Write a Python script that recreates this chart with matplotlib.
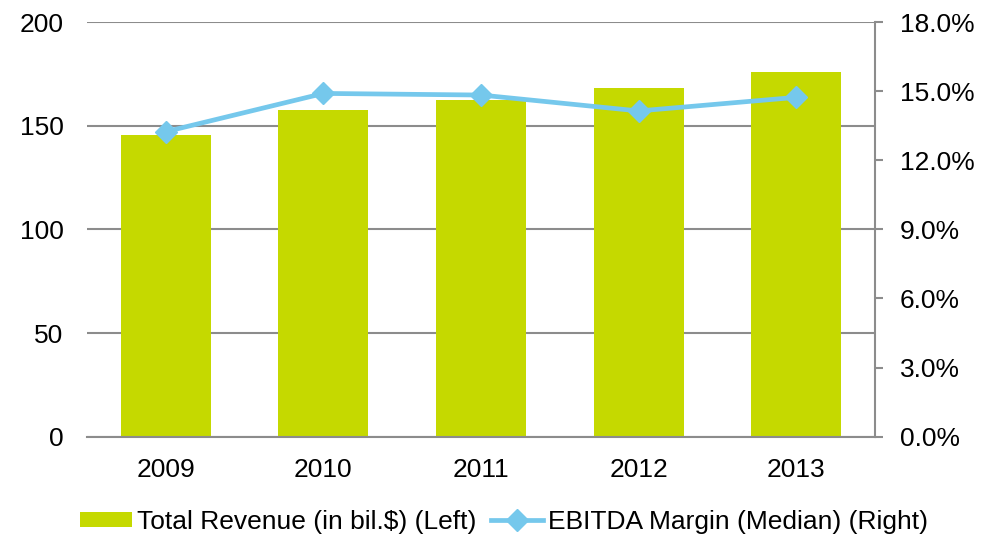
import numpy as np
import matplotlib.pyplot as plt
from matplotlib.ticker import FuncFormatter

plt.rcParams['font.family'] = ['Liberation Sans', 'DejaVu Sans']

years = ['2009', '2010', '2011', '2012', '2013']
revenue = [145.4, 157.4, 162.3, 168.1, 175.9]
ebitda_margin = [13.24, 14.90, 14.83, 14.14, 14.73]

bar_color = '#C5D900'
line_color = '#75C8EC'
grid_color = '#8C8C8C'

fig = plt.figure(figsize=(9.92, 5.38), dpi=100)
ax = fig.add_axes([0.0877, 0.1883, 0.7944, 0.7708])
x = np.arange(len(years))

bars = ax.bar(x, revenue, width=0.57, color=bar_color, zorder=2,
              label='Total Revenue (in bil.$) (Left)')
ax.set_ylim(0, 200)
ax.set_yticks([0, 50, 100, 150, 200])
ax.set_xlim(-0.5, len(years) - 0.5)
ax.set_xticks(x)
ax.set_xticklabels(years)
ax.grid(axis='y', color=grid_color, linewidth=1.5, zorder=0)
ax.set_axisbelow(True)
for s in ['left', 'top', 'right']:
    ax.spines[s].set_visible(False)
ax.spines['bottom'].set_color(grid_color)
ax.spines['bottom'].set_linewidth(1.5)
ax.tick_params(axis='y', length=0, pad=17, labelsize=19)
ax.tick_params(axis='x', length=0, pad=15, labelsize=19)

ax2 = ax.twinx()
line, = ax2.plot(x, ebitda_margin, color=line_color, linewidth=3.4, marker='D',
                 markersize=11, zorder=3, label='EBITDA Margin (Median) (Right)')
ax2.set_ylim(0, 18)
ax2.set_yticks(np.arange(0, 18.1, 3))
ax2.yaxis.set_major_formatter(FuncFormatter(lambda v, p: f'{v:.1f}%'))
for s in ['left', 'top', 'bottom']:
    ax2.spines[s].set_visible(False)
ax2.spines['right'].set_color(grid_color)
ax2.spines['right'].set_linewidth(1.5)
ax2.tick_params(axis='y', length=6, width=1.5, color=grid_color, pad=12, labelsize=19)

fig.legend(handles=[bars, line], loc='center', bbox_to_anchor=(0.508, 0.03),
           ncol=2, frameon=False, fontsize=19, handlelength=1.97,
           handletextpad=0.19, columnspacing=0.57, handleheight=0.55)

fig.savefig('out.png', dpi=100)
